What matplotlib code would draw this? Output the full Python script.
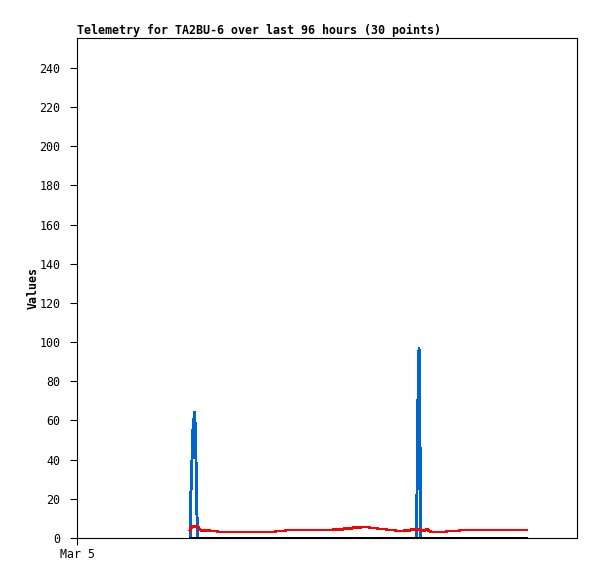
import matplotlib
matplotlib.use("Agg")
import matplotlib.pyplot as plt

# hours since Mar 5 00:00
blue_x = [32.2, 32.4, 32.76, 33.05, 33.48, 33.76, 33.9, 34.05, 34.33,
          96.72, 96.87, 97.15, 97.44, 97.72, 98.0, 128.2]
blue_y = [0, 20, 40, 56, 64, 54, 40, 22, 0,
          0, 24, 72, 97, 48, 0, 0]

red_x = [32.2, 32.8, 34.5, 34.8, 35.3, 37.6, 37.9, 39.9, 40.2, 56.4, 56.7,
         59.3, 59.5, 72.9, 73.2, 75.8, 76.1, 78.3, 78.6, 80.6, 80.9, 83.2,
         83.5, 85.5, 85.8, 88.0, 88.3, 90.6, 90.9, 93.2, 93.4, 94.9, 95.2,
         97.7, 98.0, 98.9, 99.7, 100.3, 100.9, 105.1, 105.4, 108.8, 109.1, 128.2]
red_y = [4.0, 5.8, 5.8, 4.6, 4.0, 4.0, 3.6, 3.6, 3.1, 3.1, 3.6,
         3.6, 4.1, 4.1, 4.4, 4.4, 4.9, 4.9, 5.3, 5.3, 5.6, 5.6,
         5.1, 5.1, 4.6, 4.6, 4.1, 4.1, 3.6, 3.6, 4.0, 4.0, 4.3,
         4.3, 3.7, 3.7, 4.6, 3.6, 3.1, 3.1, 3.6, 3.6, 4.1, 4.1]

black_x = [32.2, 128.2]
black_y = [0, 0]

y_ticks = list(range(0, 241, 20))
x_ticks = [0]
x_labels = ["Mar 5"]

mono = "DejaVu Sans Mono"

fig = plt.figure(figsize=(5.97, 5.79), dpi=100)
ax = fig.add_axes([77/597, 1 - 538/579, 500/597, 500/579])

ax.plot(blue_x, blue_y, color="#0066cc", lw=1.4, antialiased=False)
ax.plot(red_x, red_y, color="#ff0000", lw=1.3, antialiased=False)
ax.plot(black_x, black_y, color="black", lw=1.4, antialiased=False)

ax.set_xlim(0, 142.45)
ax.set_ylim(0, 255.3)
ax.set_yticks(y_ticks)
ax.set_xticks(x_ticks)
ax.set_xticklabels(x_labels)
ax.tick_params(direction="out", length=5, width=0.8, labelsize=8.4)
ax.tick_params(axis="y", pad=7)
ax.tick_params(axis="x", pad=2)
for lab in ax.get_xticklabels() + ax.get_yticklabels():
    lab.set_family(mono)
for s in ax.spines.values():
    s.set_linewidth(0.8)

ax.set_ylabel("Values", family=mono, fontsize=8.4, fontweight="bold", labelpad=0)
ax.set_title("Telemetry for TA2BU-6 over last 96 hours (30 points)",
             family=mono, fontsize=8.4, fontweight="bold", loc="left", pad=3)

fig.savefig("out.png", dpi=100)
